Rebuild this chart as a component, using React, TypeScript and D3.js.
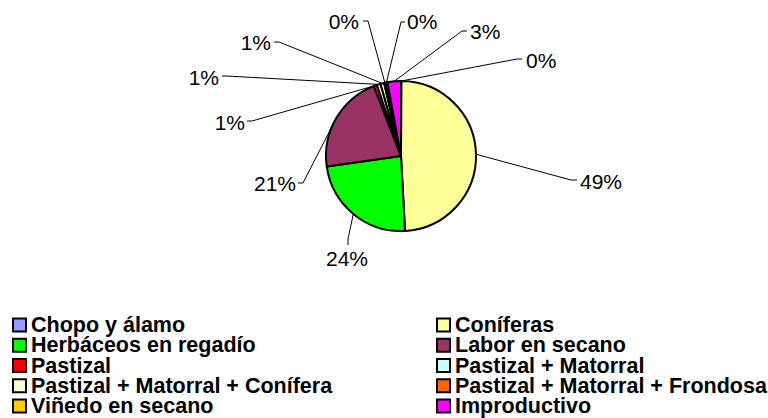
import React from 'react';
import * as d3 from 'd3';

// land use categories, in legend / pie order
const categories = [
  'Chopo y álamo',
  'Coníferas',
  'Herbáceos en regadío',
  'Labor en secano',
  'Pastizal',
  'Pastizal + Matorral',
  'Pastizal + Matorral + Conífera',
  'Pastizal + Matorral + Frondosa',
  'Viñedo en secano',
  'Improductivo',
];
const shares = [0.1, 49.0, 23.6, 21.3, 0.7, 0.8, 0.8, 0.3, 0.4, 2.9];
const colors = [
  '#9999FF', '#FFFF99', '#00FF00', '#993366', '#FF0000',
  '#CCFFFF', '#FFFFCC', '#FF6600', '#FFCC00', '#FF00FF',
];

// hand placed data labels (like the original sheet): text point, anchor, elbow of leader
const labelLayout: { x: number; y: number; anchor: string; ex: number; ey: number; ax: number; ay: number }[] = [
  { x: 526, y: 60, anchor: 'start', ex: 517, ey: 59, ax: 522, ay: 59 },
  { x: 580, y: 181, anchor: 'start', ex: 571, ey: 180, ax: 577, ay: 180 },
  { x: 347, y: 258, anchor: 'middle', ex: 348, ey: 239, ax: 348, ay: 245 },
  { x: 296, y: 183, anchor: 'end', ex: 303, ey: 183, ax: 298, ay: 183 },
  { x: 245, y: 122, anchor: 'end', ex: 252, ey: 121, ax: 247, ay: 121 },
  { x: 219, y: 77, anchor: 'end', ex: 226, ey: 76, ax: 222, ay: 76 },
  { x: 271, y: 42, anchor: 'end', ex: 279, ey: 42, ax: 274, ay: 42 },
  { x: 359, y: 21, anchor: 'end', ex: 368, ey: 21, ax: 363, ay: 21 },
  { x: 407, y: 21, anchor: 'start', ex: 401, ey: 22, ax: 405, ay: 22 },
  { x: 470, y: 31, anchor: 'start', ex: 462, ey: 31, ax: 467, ay: 31 },
];

const App = () => {
  const width = 768;
  const height = 418;
  const cx = 401;
  const cy = 156;
  const radius = 75;

  const pie = d3.pie<number>().sort(null).value((d) => d);
  const arcs = pie(shares);
  const arc = d3.arc<d3.PieArcDatum<number>>().innerRadius(0).outerRadius(radius);
  const total = d3.sum(shares);

  const legendCol = d3.scaleOrdinal<number, number>().domain([0, 1]).range([12, 436]);
  const legendRow = d3.scaleLinear().domain([0, 4]).range([325, 406]);

  return (
    <svg width={width} height={height} style={{ position: 'absolute', left: 0, top: 0 }}>
      <rect width={width} height={height} fill="#fff" />
      <g transform={`translate(${cx},${cy})`}>
        {arcs.map((a, i) => (
          <path key={i} d={arc(a) || ''} fill={colors[i]} stroke="#000" strokeWidth={2} strokeLinejoin="round" />
        ))}
      </g>
      <g fontFamily="'Liberation Sans', Arial, sans-serif" fontSize={21}>
        {arcs.map((a, i) => {
          const mid = (a.startAngle + a.endAngle) / 2;
          const px = cx + radius * Math.sin(mid);
          const py = cy - radius * Math.cos(mid);
          const l = labelLayout[i];
          return (
            <g key={i}>
              <polyline
                points={`${px},${py} ${l.ex},${l.ey} ${l.ax},${l.ay}`}
                fill="none"
                stroke="#000"
                strokeWidth={1}
              />
              <text x={l.x} y={l.y} textAnchor={l.anchor} dominantBaseline="central" fill="#000">
                {`${Math.round((shares[i] / total) * 100)}%`}
              </text>
            </g>
          );
        })}
      </g>
      <g fontFamily="'Liberation Sans', Arial, sans-serif" fontSize={21.5} fontWeight="bold">
        {categories.map((c, i) => {
          const x = legendCol(i % 2);
          const y = legendRow(Math.floor(i / 2));
          return (
            <g key={c}>
              <rect x={x + 1} y={y - 6.5} width={13} height={13} fill={colors[i]} stroke="#000" strokeWidth={2} />
              <text x={x + 19} y={y} dominantBaseline="central" fill="#000">
                {c}
              </text>
            </g>
          );
        })}
      </g>
    </svg>
  );
};

export default App;
